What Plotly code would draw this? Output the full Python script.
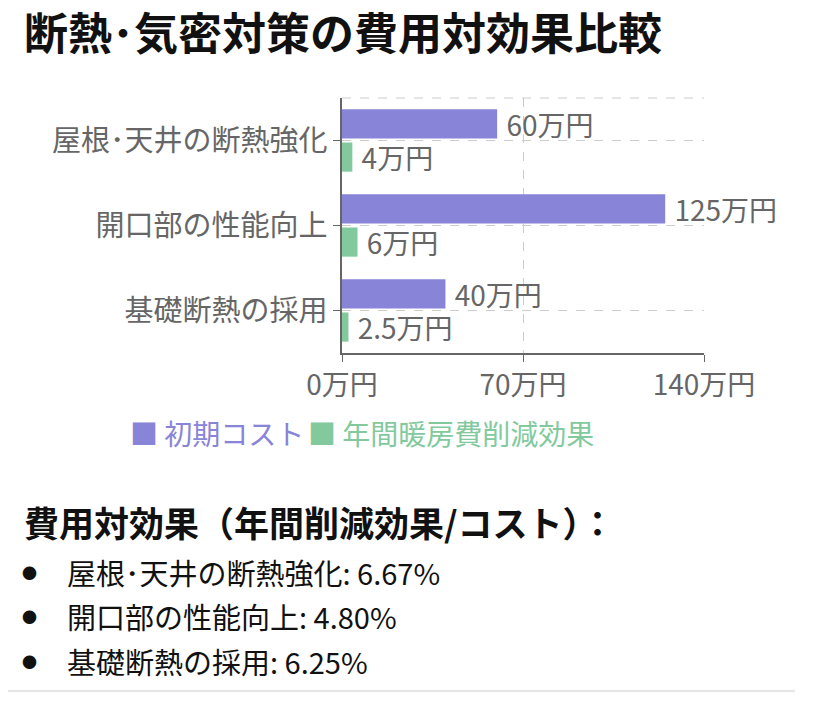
import plotly.graph_objects as go

# data
categories = ["屋根･天井の断熱強化", "開口部の性能向上", "基礎断熱の採用"]
initial_cost = [60, 125, 40]        # 万円
annual_saving = [4, 6, 2.5]         # 万円
series_names = ["初期コスト", "年間暖房費削減効果"]
x_ticks = [0, 70, 140]

COLORS = ["#8884d8", "#82ca9d"]
FONT = "Noto Sans CJK JP, Noto Sans, sans-serif"
GRAY = "#666666"

# page pixel -> paper coordinates (plot area spans page x 342..704, y 98..353)
def px_x(px):
    return (px - 342) / 362


def px_y(py):
    return (353 - py) / 255


fig = go.Figure()
for name, values, color in zip(series_names, [initial_cost, annual_saving], COLORS):
    fig.add_trace(go.Bar(
        y=categories, x=values, name=name, orientation="h",
        marker=dict(color=color, line=dict(width=0)),
        text=values, texttemplate=" %{text}万円", textposition="outside",
        textfont=dict(size=28, color=GRAY, family=FONT),
        constraintext="none", cliponaxis=False,
        hovertemplate="%{y}<br>" + name + ": %{text}万円<extra></extra>",
    ))

fig.update_xaxes(
    range=[0, 140], tickvals=x_ticks, ticktext=[f"{v}万円" for v in x_ticks],
    showgrid=True, gridcolor="#cccccc", griddash="dash", gridwidth=1,
    showline=True, linecolor=GRAY, linewidth=1.5,
    ticks="outside", ticklen=7, tickcolor=GRAY,
    tickfont=dict(size=28, color=GRAY, family=FONT),
    zeroline=False, fixedrange=True,
)
fig.update_yaxes(
    autorange="reversed",
    showgrid=True, gridcolor="#cccccc", griddash="dash", gridwidth=1,
    showline=True, linecolor=GRAY, linewidth=1.5,
    ticks="outside", ticklen=7, tickcolor=GRAY,
    tickfont=dict(size=29, color=GRAY, family=FONT),
    fixedrange=True,
)

annotations = []
legend_x = [128, 306]
for name, color, lx in zip(series_names, COLORS, legend_x):
    annotations.append(dict(
        x=px_x(lx), y=px_y(433), xref="paper", yref="paper",
        xanchor="left", yanchor="middle", showarrow=False,
        text=f"■ {name}", font=dict(size=28, color=color, family=FONT),
    ))

annotations.append(dict(
    x=px_x(22), y=px_y(521), xref="paper", yref="paper",
    xanchor="left", yanchor="middle", showarrow=False,
    text="<b>費用対効果（年間削減効果/コスト）：</b>",
    font=dict(size=35, color="#111111", family=FONT),
))
bullet_y = [572, 616, 661]
for cat, cost, saving, by in zip(categories, initial_cost, annual_saving, bullet_y):
    annotations.append(dict(
        x=px_x(29), y=px_y(by), xref="paper", yref="paper",
        xanchor="center", yanchor="middle", showarrow=False,
        text="●", font=dict(size=15, color="#111111", family=FONT),
    ))
    annotations.append(dict(
        x=px_x(65), y=px_y(by), xref="paper", yref="paper",
        xanchor="left", yanchor="middle", showarrow=False,
        text=f"{cat}: {saving / cost * 100:.2f}%",
        font=dict(size=29, color="#111111", family=FONT),
    ))

shapes = [
    dict(type="line", xref="paper", yref="paper", x0=0, x1=1, y0=1, y1=1,
         line=dict(color="#cccccc", width=1, dash="dash")),
    dict(type="line", xref="paper", yref="paper", x0=px_x(8), x1=px_x(795),
         y0=px_y(691), y1=px_y(691), line=dict(color="#e6e6e6", width=2)),
]

fig.update_layout(
    width=817, height=685,
    margin=dict(l=334, r=121, t=90, b=340),
    paper_bgcolor="white", plot_bgcolor="white",
    barmode="group", bargap=0.22, bargroupgap=0.12,
    showlegend=False,
    title=dict(
        text="<b>断熱･気密対策の費用対効果比較</b>",
        x=16 / 817, xanchor="left", y=1 - 27 / 685, yanchor="middle",
        font=dict(size=44, color="#111111", family=FONT),
    ),
    annotations=annotations,
    shapes=shapes,
    font=dict(family=FONT),
)

fig.write_html("out.html")
